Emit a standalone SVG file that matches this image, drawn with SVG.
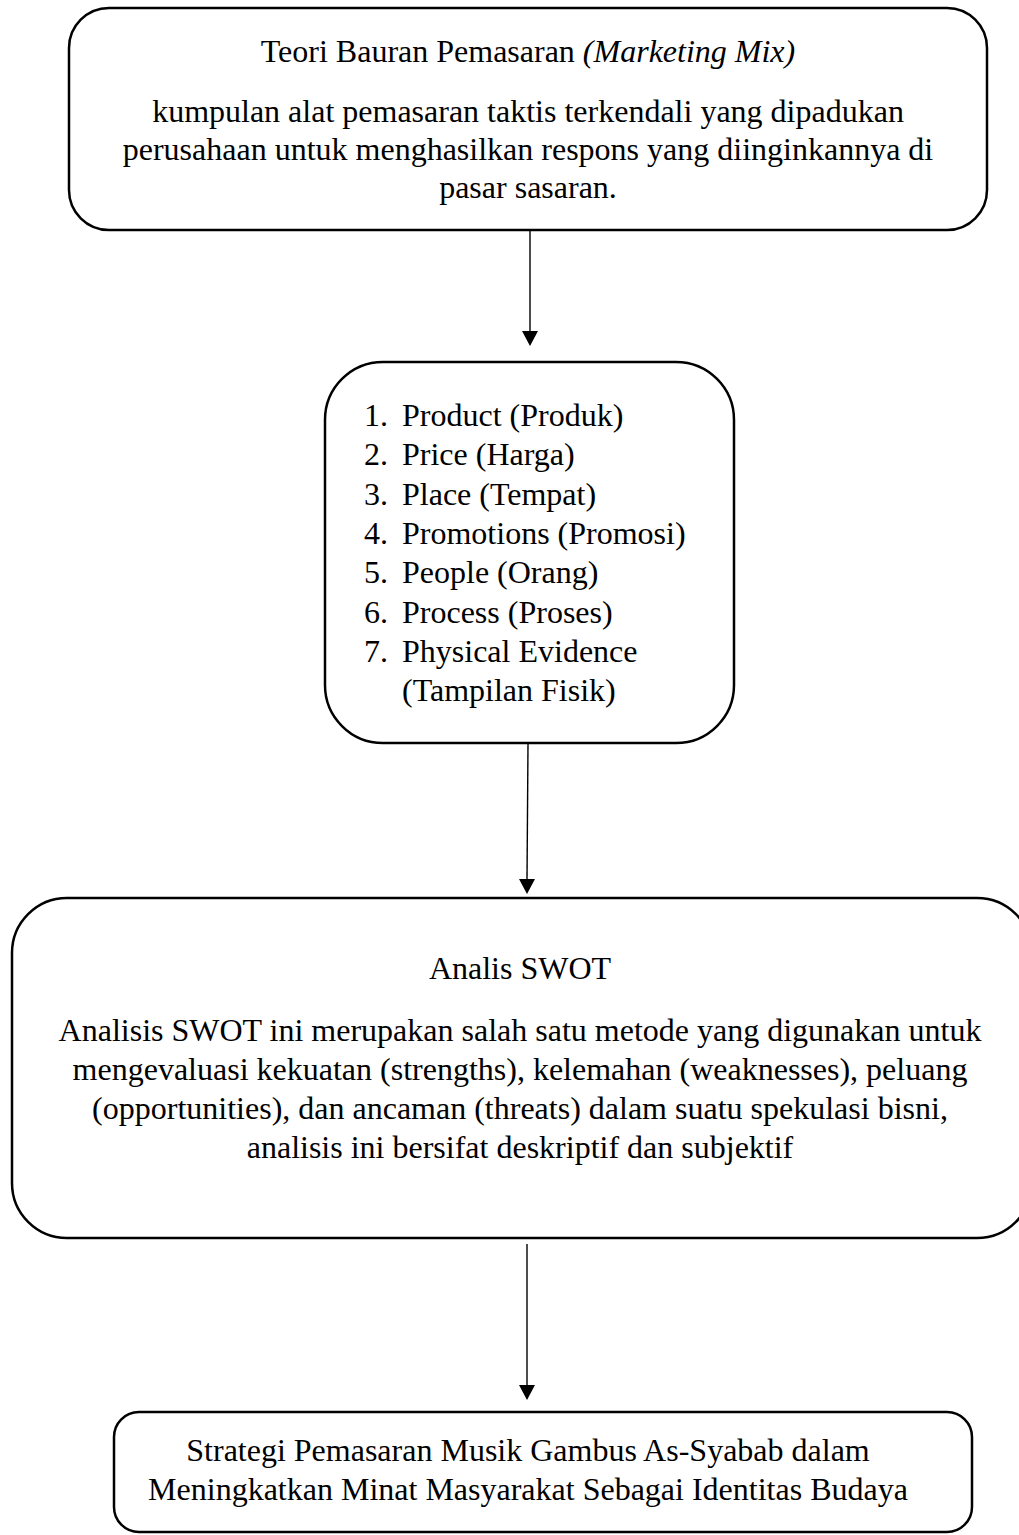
<svg xmlns="http://www.w3.org/2000/svg" width="1019" height="1535" viewBox="0 0 1019 1535">
<style>
.box{fill:#fff;stroke:#000;stroke-width:2.5}
.t{font-family:"Liberation Serif","Times New Roman",serif;font-size:32px;fill:#000}
.c{text-anchor:middle}
.ln{stroke:#000;stroke-width:1.4;fill:none}
.ah{fill:#000}
</style>
<rect width="1019" height="1535" fill="#fff"/>
<g id="connectors">
<line class="ln" x1="530" y1="231" x2="530" y2="332"/>
<polygon class="ah" points="522,331 538,331 530,346"/>
<line class="ln" x1="528" y1="744" x2="527" y2="880"/>
<polygon class="ah" points="519,879 535,879 527,894"/>
<line class="ln" x1="527" y1="1244" x2="527" y2="1386"/>
<polygon class="ah" points="519,1385 535,1385 527,1400"/>
</g>
<g id="node-teori">
<rect class="box" x="69" y="8" width="918" height="222" rx="40" ry="40"/>
<text class="t c" x="528" y="62">Teori Bauran Pemasaran <tspan font-style="italic">(Marketing Mix)</tspan></text>
<text class="t c" x="528" y="122">kumpulan alat pemasaran taktis terkendali yang dipadukan</text>
<text class="t c" x="528" y="160">perusahaan untuk menghasilkan respons yang diinginkannya di</text>
<text class="t c" x="528" y="198">pasar sasaran.</text>
</g>
<g id="node-7p">
<rect class="box" x="325" y="362" width="409" height="381" rx="58" ry="58"/>
<text class="t" x="364" y="426">1.</text><text class="t" x="402" y="426">Product (Produk)</text>
<text class="t" x="364" y="465">2.</text><text class="t" x="402" y="465">Price (Harga)</text>
<text class="t" x="364" y="505">3.</text><text class="t" x="402" y="505">Place (Tempat)</text>
<text class="t" x="364" y="544">4.</text><text class="t" x="402" y="544">Promotions (Promosi)</text>
<text class="t" x="364" y="583">5.</text><text class="t" x="402" y="583">People (Orang)</text>
<text class="t" x="364" y="623">6.</text><text class="t" x="402" y="623">Process (Proses)</text>
<text class="t" x="364" y="662">7.</text><text class="t" x="402" y="662">Physical Evidence</text>
<text class="t" x="402" y="701">(Tampilan Fisik)</text>
</g>
<g id="node-swot">
<rect class="box" x="12" y="898" width="1020" height="340" rx="55" ry="55"/>
<text class="t c" x="520" y="979">Analis SWOT</text>
<text class="t c" x="520" y="1041">Analisis SWOT ini merupakan salah satu metode yang digunakan untuk</text>
<text class="t c" x="520" y="1080">mengevaluasi kekuatan (strengths), kelemahan (weaknesses), peluang</text>
<text class="t c" x="520" y="1119">(opportunities), dan ancaman (threats) dalam suatu spekulasi bisni,</text>
<text class="t c" x="520" y="1158">analisis ini bersifat deskriptif dan subjektif</text>
</g>
<g id="node-strategi">
<rect class="box" x="114" y="1412" width="858" height="120" rx="25" ry="25"/>
<text class="t c" x="528" y="1461">Strategi Pemasaran Musik Gambus As-Syabab dalam</text>
<text class="t c" x="528" y="1500">Meningkatkan Minat Masyarakat Sebagai Identitas Budaya</text>
</g>
</svg>
